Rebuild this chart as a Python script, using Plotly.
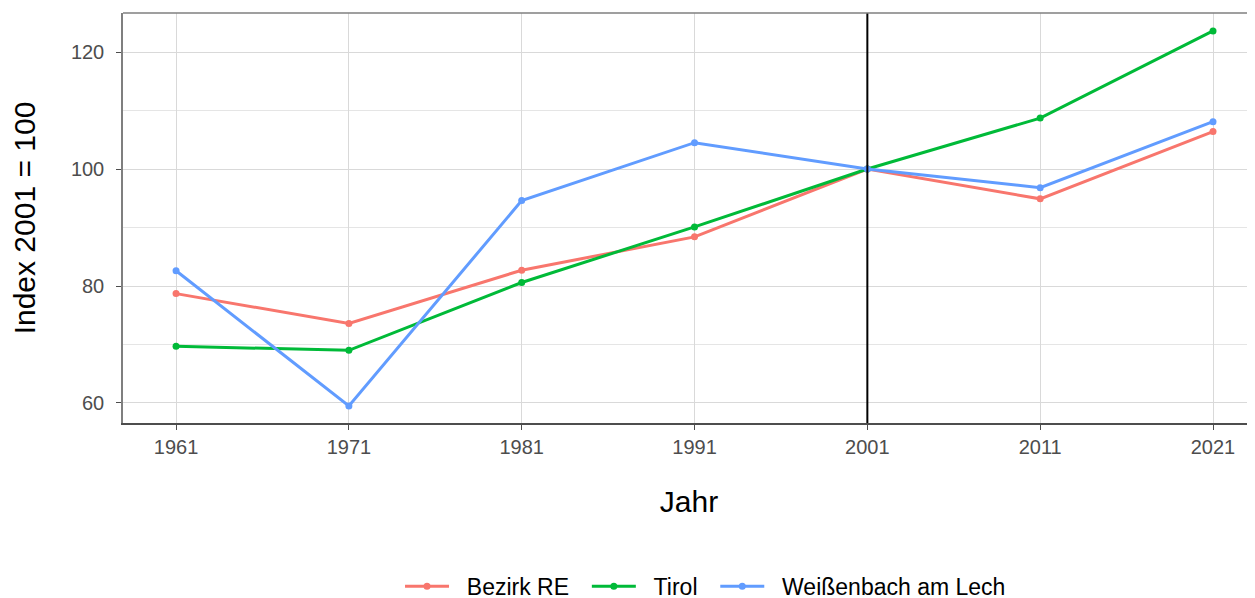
import plotly.graph_objects as go

years = [1961, 1971, 1981, 1991, 2001, 2011, 2021]
bezirk_re = [78.7, 73.6, 82.7, 88.4, 100.0, 94.9, 106.4]
tirol = [69.7, 69.0, 80.6, 90.1, 100.0, 108.7, 123.6]
weissenbach = [82.6, 59.5, 94.6, 104.5, 100.0, 96.8, 108.1]

NB = "\u00a0"
series = [
    (NB * 2 + "Bezirk RE" + NB * 2, bezirk_re, "#F8766D"),
    (NB * 2 + "Tirol" + NB * 2, tirol, "#00BA38"),
    (NB * 2 + "Weißenbach am Lech", weissenbach, "#619CFF"),
]

fig = go.Figure()
for name, vals, col in series:
    fig.add_trace(go.Scatter(
        x=years, y=vals, name=name, mode="lines+markers",
        line=dict(color=col, width=3), marker=dict(color=col, size=7),
    ))

# vertical reference line at 2001
fig.add_vline(x=2001, line=dict(color="black", width=2))

FONT = "Liberation Sans, Arial, sans-serif"
tickfont = dict(family=FONT, size=20, color="#4d4d4d")
titlefont = dict(family=FONT, size=30, color="black")

fig.update_layout(
    width=1255, height=598,
    margin=dict(l=115, r=8, t=5, b=183, autoexpand=False),
    paper_bgcolor="white", plot_bgcolor="white",
    showlegend=True,
    legend=dict(orientation="h", x=0.5146, xanchor="center", y=-0.398, yanchor="middle",
                font=dict(family=FONT, size=23, color="black"),
                itemwidth=44),
    xaxis=dict(
        range=[1957.93, 2023.43], tickmode="array", tickvals=years,
        ticktext=[str(y) for y in years],
        showgrid=True, gridcolor="#d9d9d9", gridwidth=1,
        ticks="outside", ticklen=5, tickcolor="#4d4d4d", tickwidth=1,
        tickfont=tickfont, zeroline=False,
        showline=True, linecolor="#4d4d4d", linewidth=1.5,
        title=dict(text="Jahr", font=titlefont, standoff=34),
        automargin=False,
    ),
    yaxis=dict(
        range=[56.58, 126.67], tickmode="array", tickvals=[60, 80, 100, 120],
        showgrid=True, gridcolor="#d9d9d9", gridwidth=1,
        minor=dict(tickvals=[70, 90, 110], showgrid=True, gridcolor="#e5e5e5", gridwidth=1, ticks=""),
        ticks="outside", ticklen=5, tickcolor="#4d4d4d", tickwidth=1,
        tickfont=tickfont, zeroline=False, ticklabelstandoff=8,
        showline=True, linecolor="#7f7f7f", linewidth=1.5, mirror=False,
        title=dict(text="Index 2001 = 100", font=titlefont, standoff=34),
        automargin=False,
    ),
)
# top border of the panel
fig.add_shape(type="line", xref="paper", yref="paper", x0=0, x1=1, y0=1, y1=1,
              line=dict(color="#7f7f7f", width=1.5))

fig.write_html("out.html")
